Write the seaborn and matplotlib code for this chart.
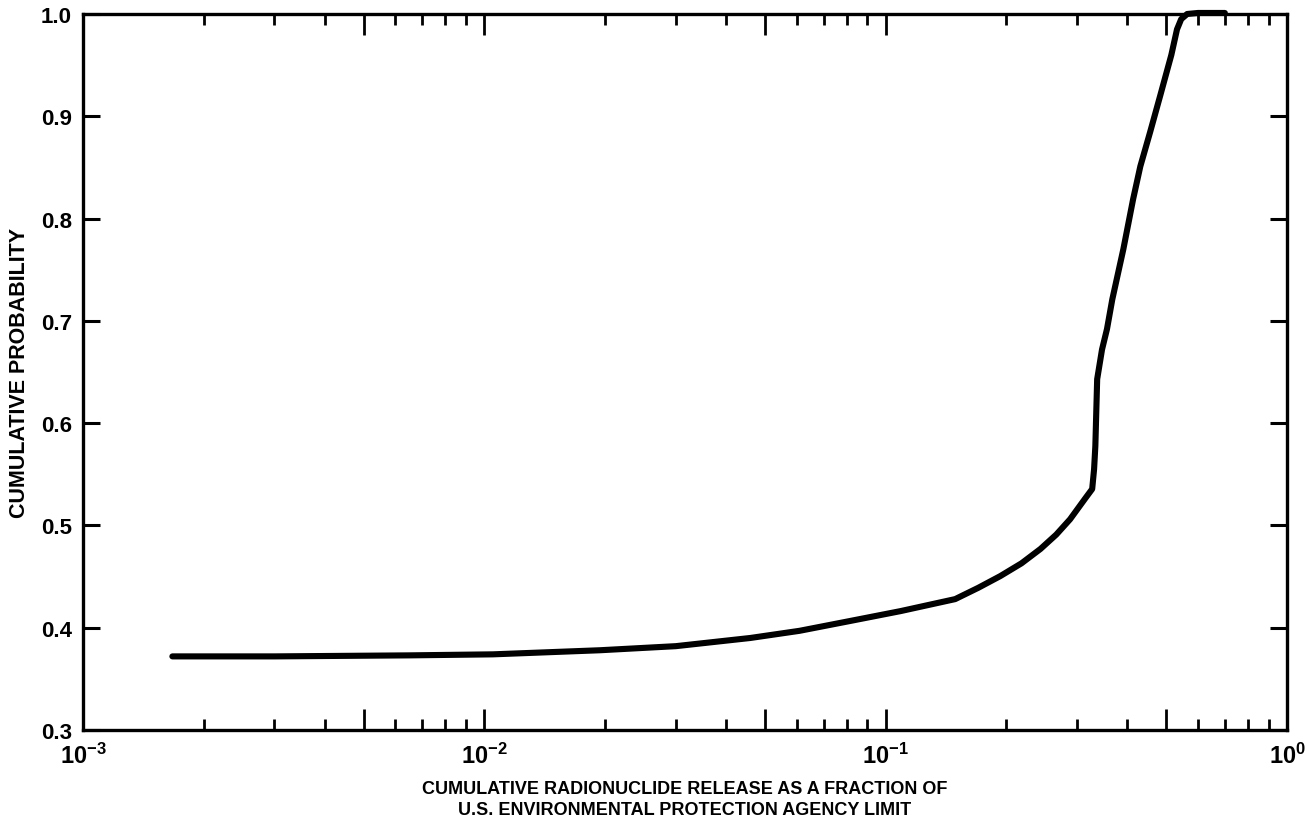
import matplotlib
matplotlib.use("Agg")
import matplotlib.pyplot as plt
import matplotlib.ticker as mticker
import numpy as np
import pandas as pd
import seaborn as sns

# Cumulative release (fraction of EPA limit) and cumulative probability
release = [1.67e-3, 3.0e-3, 6.5e-3, 1.05e-2, 1.94e-2, 3.0e-2, 4.6e-2, 6.1e-2,
           8.15e-2, 0.109, 0.149, 0.170, 0.193, 0.218, 0.243, 0.266, 0.288,
           0.315, 0.327, 0.3306, 0.333, 0.3365, 0.346, 0.356, 0.367, 0.391,
           0.4136, 0.431, 0.456, 0.483, 0.515, 0.532, 0.545, 0.564, 0.60, 0.70]
probability = [0.372, 0.372, 0.373, 0.374, 0.378, 0.382, 0.390, 0.397,
               0.4066, 0.4163, 0.428, 0.439, 0.4505, 0.463, 0.477, 0.491, 0.506,
               0.527, 0.5356, 0.555, 0.5776, 0.643, 0.672, 0.692, 0.721, 0.770,
               0.819, 0.851, 0.8846, 0.920, 0.960, 0.985, 0.995, 1.0, 1.001, 1.001]

x_decades = [1e-3, 1e-2, 1e-1, 1e0]
y_ticks = [0.3, 0.4, 0.5, 0.6, 0.7, 0.8, 0.9, 1.0]
xlabel = "CUMULATIVE RADIONUCLIDE RELEASE AS A FRACTION OF\nU.S. ENVIRONMENTAL PROTECTION AGENCY LIMIT"
ylabel = "CUMULATIVE PROBABILITY"

sns.set_theme(style="white")
plt.rcParams["font.family"] = ["Liberation Sans", "DejaVu Sans"]
plt.rcParams["font.weight"] = "bold"
plt.rcParams["text.color"] = "black"
plt.rcParams["axes.labelcolor"] = "black"
plt.rcParams["xtick.color"] = "black"
plt.rcParams["ytick.color"] = "black"
plt.rcParams["mathtext.fontset"] = "custom"
plt.rcParams["mathtext.rm"] = "Liberation Sans:bold"
plt.rcParams["mathtext.bf"] = "Liberation Sans:bold"

df = pd.DataFrame({"release": release, "probability": probability})

fig, ax = plt.subplots(figsize=(13.09, 8.28), dpi=100)
fig.subplots_adjust(left=0.0634, right=0.9832, top=0.9819, bottom=0.1171)

sns.lineplot(data=df, x="release", y="probability", ax=ax, color="black",
             linewidth=4.4, sort=False, estimator=None,
             solid_capstyle="round", solid_joinstyle="round", clip_on=False)

ax.set_xscale("log")
ax.set_xlim(x_decades[0], x_decades[-1])
ax.set_ylim(y_ticks[0], y_ticks[-1])

# decade and half-decade ticks long, the rest short
ax.xaxis.set_major_locator(mticker.LogLocator(base=10, subs=(1.0, 5.0)))
ax.xaxis.set_minor_locator(mticker.LogLocator(base=10, subs=(2.0, 3.0, 4.0, 6.0, 7.0, 8.0, 9.0)))


def decade_label(v, pos):
    e = np.log10(v)
    if abs(e - round(e)) < 1e-6:
        return r"$\mathbf{10^{%d}}$" % int(round(e))
    return ""


ax.xaxis.set_major_formatter(mticker.FuncFormatter(decade_label))
ax.xaxis.set_minor_formatter(mticker.NullFormatter())
ax.set_yticks(y_ticks)
ax.yaxis.set_major_formatter(mticker.FormatStrFormatter("%.1f"))

for side in ["left", "right", "top", "bottom"]:
    ax.spines[side].set_visible(True)
    ax.spines[side].set_color("black")
    ax.spines[side].set_linewidth(2.4)

ax.tick_params(axis="x", which="major", direction="in", length=15, width=2.0,
               top=True, bottom=True, labelsize=17, pad=9, colors="black")
ax.tick_params(axis="x", which="minor", direction="in", length=8, width=2.0,
               top=True, bottom=True, colors="black")
ax.tick_params(axis="y", which="major", direction="in", length=12, width=2.2,
               left=True, right=True, labelsize=16, pad=8, colors="black")
for lab in ax.get_yticklabels():
    lab.set_fontweight("bold")

ax.set_xlabel(xlabel, fontsize=13, fontweight="bold", labelpad=9,
              linespacing=1.3, color="black")
ax.set_ylabel(ylabel, fontsize=15.5, fontweight="bold", labelpad=8, color="black")
ax.grid(False)

fig.savefig("out.png", dpi=100, facecolor="white")
